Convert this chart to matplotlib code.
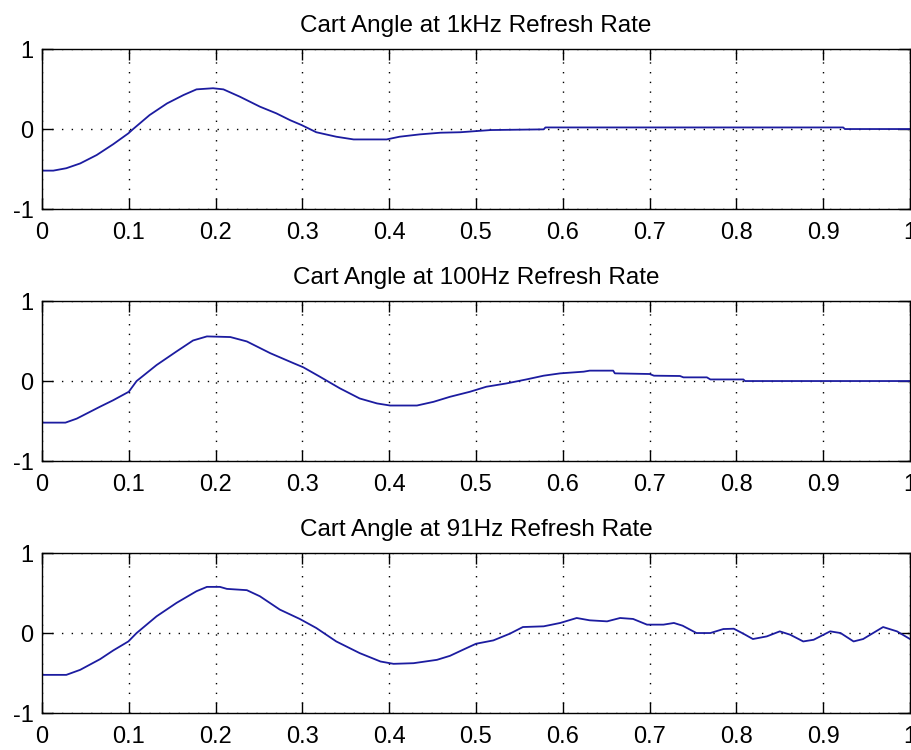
import matplotlib
matplotlib.use("Agg")
import matplotlib.pyplot as plt

plt.rcParams['font.family'] = ['Liberation Sans', 'DejaVu Sans']
plt.rcParams['axes.unicode_minus'] = False

# 1 kHz refresh
t_1k = [0, 0.013, 0.028, 0.044, 0.063, 0.082, 0.0995, 0.105, 0.124, 0.144, 0.163,
        0.178, 0.197, 0.209, 0.228, 0.251, 0.27, 0.286, 0.299, 0.316, 0.339, 0.359,
        0.397, 0.412, 0.435, 0.459, 0.482, 0.517, 0.578, 0.58, 0.923, 0.925, 1.0]
y_1k = [-0.52, -0.52, -0.49, -0.43, -0.325, -0.19, -0.054, 0, 0.175, 0.32, 0.425,
        0.496, 0.51, 0.496, 0.404, 0.28, 0.196, 0.11, 0.05, -0.04, -0.096, -0.13,
        -0.13, -0.096, -0.067, -0.046, -0.04, -0.0125, -0.004, 0.02, 0.02, 0, 0]

# 100 Hz refresh
t_100 = [0, 0.027, 0.04, 0.067, 0.082, 0.1, 0.109, 0.132, 0.155, 0.174, 0.19, 0.217,
         0.236, 0.263, 0.29, 0.301, 0.32, 0.343, 0.366, 0.386, 0.401, 0.432, 0.451,
         0.47, 0.493, 0.512, 0.535, 0.558, 0.578, 0.597, 0.624, 0.631, 0.658, 0.66,
         0.7, 0.705, 0.735, 0.739, 0.766, 0.77, 0.808, 0.81, 1.0]
y_100 = [-0.52, -0.52, -0.47, -0.32, -0.24, -0.134, 0, 0.2, 0.37, 0.507, 0.558, 0.55,
         0.495, 0.348, 0.222, 0.172, 0.055, -0.09, -0.218, -0.28, -0.306, -0.306, -0.26,
         -0.197, -0.134, -0.071, -0.03, 0.02, 0.067, 0.096, 0.117, 0.13, 0.13, 0.096,
         0.088, 0.067, 0.063, 0.046, 0.046, 0.02, 0.02, 0, 0]

# 91 Hz refresh
t_91 = [0, 0.028, 0.044, 0.067, 0.082, 0.0995, 0.109, 0.132, 0.155, 0.178, 0.19,
        0.205, 0.213, 0.236, 0.251, 0.274, 0.297, 0.316, 0.339, 0.366, 0.39, 0.405,
        0.428, 0.455, 0.47, 0.485, 0.5, 0.52, 0.539, 0.554, 0.578, 0.597, 0.616,
        0.631, 0.651, 0.666, 0.681, 0.697, 0.716, 0.728, 0.738, 0.754, 0.77, 0.785,
        0.797, 0.808, 0.819, 0.835, 0.85, 0.862, 0.877, 0.889, 0.908, 0.92, 0.935,
        0.946, 0.969, 0.985, 1.0]
y_91 = [-0.523, -0.523, -0.46, -0.326, -0.218, -0.105, 0, 0.209, 0.377, 0.523, 0.577,
        0.577, 0.552, 0.536, 0.46, 0.293, 0.176, 0.063, -0.105, -0.251, -0.356, -0.385,
        -0.377, -0.335, -0.285, -0.209, -0.134, -0.092, -0.008, 0.075, 0.084, 0.126,
        0.188, 0.159, 0.146, 0.188, 0.176, 0.105, 0.105, 0.126, 0.092, 0, 0, 0.05,
        0.054, -0.008, -0.075, -0.042, 0.021, -0.021, -0.105, -0.084, 0.021, 0, -0.105,
        -0.075, 0.075, 0.021, -0.075]

titles = ["Cart Angle at 1kHz Refresh Rate",
          "Cart Angle at 100Hz Refresh Rate",
          "Cart Angle at 91Hz Refresh Rate"]
series = [(t_1k, y_1k), (t_100, y_100), (t_91, y_91)]
xticks = [0, 0.1, 0.2, 0.3, 0.4, 0.5, 0.6, 0.7, 0.8, 0.9, 1]
xlabels = ["0", "0.1", "0.2", "0.3", "0.4", "0.5", "0.6", "0.7", "0.8", "0.9", "1"]

fig = plt.figure(figsize=(9.11, 7.5), dpi=100)

bottoms = [0.7213, 0.3853, 0.0493]
for i in range(3):
    ax = fig.add_axes([42 / 911, bottoms[i], 868 / 911, 0.2133])
    t, y = series[i]
    ax.plot(t, y, color='#1c1ca0', linewidth=1.3)
    ax.set_xlim(0, 1)
    ax.set_ylim(-1, 1)
    ax.set_xticks(xticks)
    ax.set_xticklabels(xlabels)
    ax.set_yticks([-1, 0, 1])
    ax.set_yticklabels(["-1", "0", "1"])
    ax.tick_params(direction='in', top=True, right=True, length=8, width=1,
                   labelsize=17)
    ax.tick_params(axis='x', pad=9)
    ax.tick_params(axis='y', pad=6)
    ax.grid(True, color='black', linestyle=(0, (1, 6)), linewidth=1)
    for s in ax.spines.values():
        s.set_linewidth(1)
    ax.set_title(titles[i], fontsize=17.5, pad=12)

fig.savefig('out.png', dpi=100)
